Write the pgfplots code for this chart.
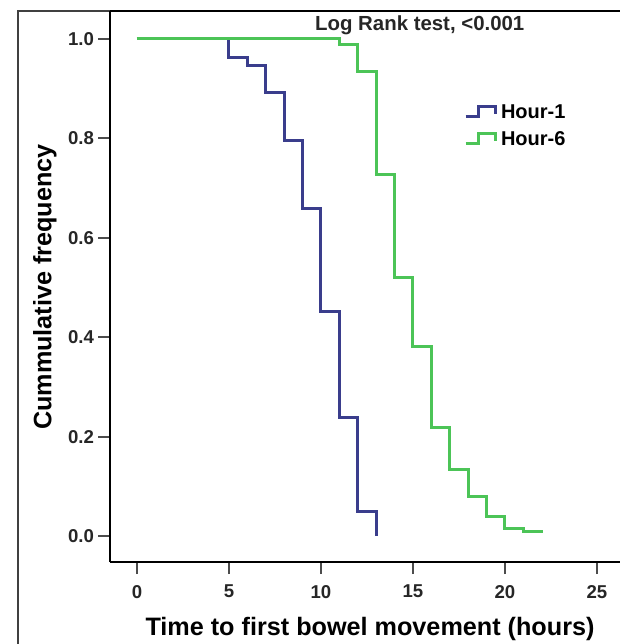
\documentclass[border=0pt]{standalone}
\usepackage{fontspec}
\setmainfont{Liberation Sans}
\usepackage{pgfplots}
\pgfplotsset{compat=1.18}
\definecolor{hourone}{RGB}{58,61,140}
\definecolor{hoursix}{RGB}{76,196,87}

\begin{document}
\begin{tikzpicture}
\useasboundingbox (0pt,0pt) rectangle (310pt,322pt);
\clip (0pt,0pt) rectangle (310pt,322pt);
% outer frame and top edge of the plot area (cut off at the right, as in the source)
\draw[line width=1pt, black!75] (9pt,-5pt) -- (9pt,316.5pt) -- (55pt,316.5pt);
\draw[line width=1pt, black] (55pt,316.5pt) -- (315pt,316.5pt);
\begin{axis}[
  at={(55pt,41pt)}, anchor=south west,
  scale only axis, width=267.5pt, height=275.5pt,
  xmin=-1.467, xmax=27.61,
  ymin=-0.0523, ymax=1.0563,
  axis x line*=bottom, axis y line*=left,
  xtick={0,5,10,15,20,25},
  ytick={0,0.2,0.4,0.6,0.8,1.0},
  yticklabels={0.0,0.2,0.4,0.6,0.8,1.0},
  tick align=outside,
  major tick length=6pt,
  axis line style={line width=1pt, black},
  tick style={line width=1pt, black!70},
  /pgf/number format/assume math mode=true,
  tick label style={font=\fontsize{9.3}{10}\selectfont\bfseries, text=black!85},
  xticklabel style={yshift=-2pt},
  yticklabel style={xshift=1.5pt},
  xlabel={Time to first bowel movement (hours)},
  ylabel={Cummulative frequency},
  label style={font=\fontsize{12.6}{14}\selectfont\bfseries, inner sep=0pt},
  xlabel style={at={(axis description cs:0.486,0)}, anchor=north, yshift=-27.5pt},
  ylabel style={at={(axis description cs:0,0.499)}, anchor=south, yshift=26.5pt},
  legend style={at={(rel axis cs:0.661,0.833)}, anchor=north west,
    draw=none, fill=none, inner sep=0pt, row sep=3.5pt,
    font=\fontsize{10}{12}\selectfont\bfseries,
    nodes={inner sep=0pt, text height=7.5pt, text depth=2.5pt}},
  legend cell align=left,
  legend image code/.code={%
    \draw[#1] (0pt,-1.5pt) -- (6.5pt,-1.5pt) -- (6.5pt,3.5pt) -- (15pt,3.5pt) -- (15pt,-0.5pt);},
]
\addplot[const plot, color=hourone, line width=1.5pt] coordinates {
  (0,1.000)(5,0.962)(6,0.947)(7,0.893)(8,0.795)(9,0.658)
  (10,0.451)(11,0.239)(12,0.050)(13,0.000)
};
\addlegendentry{\hspace{2pt}Hour-1}
\addplot[const plot, color=hoursix, line width=1.5pt] coordinates {
  (0,1.000)(11,0.988)(12,0.934)(13,0.727)(14,0.521)(15,0.381)
  (16,0.218)(17,0.133)(18,0.080)(19,0.039)(20,0.016)(21,0.010)(22,0.007)
};
\addlegendentry{\hspace{2pt}Hour-6}
\node[font=\fontsize{10.2}{12}\selectfont\bfseries, text=black!85]
  at (rel axis cs:0.579,0.9746) {Log Rank test, <0.001};
\end{axis}
\end{tikzpicture}
\end{document}
